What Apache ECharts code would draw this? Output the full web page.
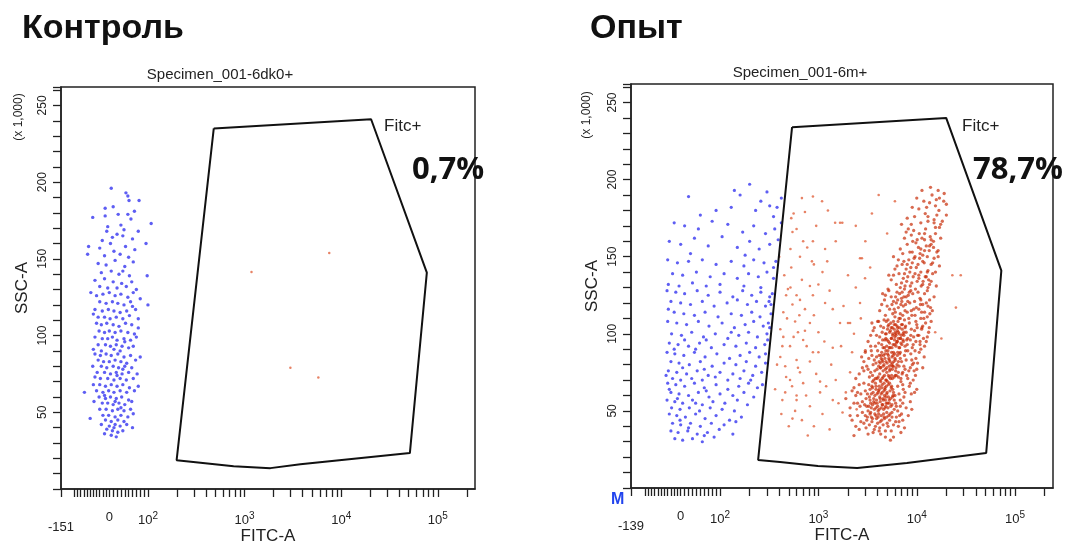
<!DOCTYPE html>
<html>
<head>
<meta charset="utf-8">
<title>FITC-A / SSC-A</title>
<script src="https://cdn.jsdelivr.net/npm/echarts@6/dist/echarts.min.js"></script>
<style>
  html, body { margin: 0; padding: 0; background: #fff; }
  #main { width: 1072px; height: 549px; }
</style>
</head>
<body>
<div id="main"></div>
<script>
// ---- data: [FITC-A, SSC-A (x1000)] ----
// Контроль, FITC- (blue)
var ctrlNeg = [
  [5,196],[43,193],[48,191],[51,188],[77,188],[-13,183],[10,184],[-52,177],[-13,178],[108,173],[23,179],[48,179],[56,176],[30,172],[-5,171],[65,181],
  [-8,168],[20,166],[35,165],[-22,162],[60,163],[75,168],[3,160],[42,158],[-65,158],[12,155],[28,153],[95,160],[-15,152],[50,151],[66,156],[8,164],[38,169],[-30,157],
  [-68,153],[-35,147],[-10,146],[15,149],[40,145],[62,148],[-25,141],[5,142],[25,140],[52,139],[98,139],[-45,136],[-15,137],[10,135],[32,134],[58,135],[-5,131],[20,131],[44,132],[70,130],[-30,132],[35,142],
  [-58,128],[-40,126],[-20,127],[0,128],[15,126],[30,127],[48,125],[62,128],[80,124],[-30,122],[-10,121],[8,122],[22,121],[38,120],[55,122],[100,120],[-45,117],[-22,116],[-3,117],[12,116],[28,115],[45,116],[68,117],[-35,112],[-15,112],[2,111],[18,112],[35,111],[52,113],[75,111],[-50,114],[60,119],
  [-40,108],[-25,107],[-8,108],[10,107],[25,106],[42,108],[58,107],[75,105],[-32,103],[-15,102],[0,103],[15,102],[30,103],[48,102],[65,101],[-45,99],[-22,98],[-5,98],[8,99],[20,97],[38,98],[55,97],[70,99],[-35,94],[-12,94],[3,93],[18,94],[33,93],[50,92],[-50,91],[-25,90],[12,91],[28,90],[62,93],[40,96],
  [-45,88],[-28,87],[-10,88],[5,87],[22,88],[38,86],[55,87],[80,86],[-35,84],[-18,83],[0,83],[15,84],[30,83],[45,82],[68,84],[-52,80],[-25,80],[-8,79],[10,80],[24,79],[40,80],[58,79],[-38,76],[-15,76],[3,75],[18,76],[33,75],[50,76],[72,75],[-28,72],[-5,72],[12,71],[28,72],[44,71],[62,72],[-45,73],[20,74],[35,78],
  [-78,63],[-50,68],[-30,68],[-12,67],[5,68],[20,67],[35,68],[52,66],[75,67],[-40,64],[-20,63],[-2,64],[12,63],[28,64],[45,63],[65,64],[-32,60],[-12,59],[3,60],[18,59],[32,60],[50,58],[-48,57],[-22,56],[-5,56],[10,55],[25,56],[40,55],[58,57],[-30,52],[-10,52],[8,51],[22,52],[38,51],[55,52],[-15,61],[15,57],[30,53],
  [-20,48],[-2,48],[15,47],[30,48],[48,47],[62,49],[-12,45],[5,44],[22,45],[38,44],[-60,46],[-25,42],[0,41],[15,42],[28,41],[45,42],[60,40],[-8,39],[8,38],[22,37],[35,38],[-15,36],[5,35],[18,34],[12,40]
];
// Контроль, Fitc+ (red)
var ctrlPos = [[1180,141.5],[7520,153.8],[2980,79],[5800,72.7]];

// Опыт, FITC- (blue)
var expNeg = [
  [20,189],[50,177],[140,193],[200,197],[160,190],[260,186],[320,183],[380,182],[130,182],[230,180],[300,192],[420,188],[90,180],[350,176],
  [-20,172],[10,170],[45,168],[80,173],[120,171],[170,166],[220,170],[290,165],[360,168],[420,172],[-35,160],[0,158],[35,162],[70,157],[105,163],[150,156],[200,160],[250,155],[320,158],[390,161],[25,152],[180,151],
  [-40,148],[-10,146],[20,147],[55,148],[90,145],[130,147],[175,144],[220,148],[280,146],[350,143],[370,147],[-25,139],[5,138],[40,140],[75,137],[110,139],[150,136],[195,139],[245,137],[300,140],[350,136],[-38,132],[-5,131],[30,133],[65,131],[100,132],[175,131],[260,130],
  [-42,128],[-15,127],[10,126],[42,128],[70,125],[100,127],[135,124],[170,128],[210,125],[260,127],[320,124],[340,126],[-30,121],[0,120],[25,119],[55,121],[85,118],[118,120],[150,122],[190,119],[235,121],[290,118],[315,121],[330,119],[-20,114],[8,113],[35,112],[62,114],[95,111],[130,113],[165,112],[210,114],[255,111],[330,113],[-38,116],
  [-40,108],[-12,107],[15,106],[45,108],[72,105],[105,107],[140,104],[180,106],[220,108],[275,105],[310,107],[320,104],[-28,100],[2,99],[28,101],[58,98],[88,100],[120,97],[155,99],[195,101],[240,98],[300,100],[305,96],[-35,94],[-8,93],[20,92],[48,94],[78,91],[110,93],[145,92],[185,94],[230,91],[285,93],[10,96],[65,96],[130,101],[-20,90],[38,90],
  [-42,88],[-18,87],[8,86],[35,88],[62,85],[92,87],[125,84],[160,86],[200,88],[250,85],[290,87],[-30,82],[-5,81],[22,80],[50,82],[80,79],[110,81],[145,80],[185,82],[230,79],[290,81],[-38,76],[-12,75],[15,74],[42,76],[70,73],[100,75],[135,74],[175,76],[215,73],[265,75],[-25,71],[0,70],[28,71],[55,70],[88,72],[120,70],[160,71],[205,70],[5,78],[60,77],[-45,73],
  [-40,68],[-15,67],[10,66],[35,68],[60,65],[90,67],[120,64],[155,66],[195,68],[240,65],[270,67],[-30,62],[-5,61],[20,60],[45,62],[72,59],[100,61],[135,60],[175,62],[220,59],[-42,57],[-18,56],[5,55],[30,57],[55,54],[82,56],[112,55],[150,57],[190,54],[-28,52],[-2,51],[22,52],[48,50],[75,52],[105,51],[140,50],[-10,58],[38,55],[65,63],[-35,64],
  [-35,48],[-12,47],[12,46],[38,48],[62,45],[90,47],[125,44],[165,46],[-25,42],[0,41],[25,42],[50,40],[78,42],[110,41],[145,43],[-30,37],[-8,36],[18,37],[42,35],[68,36],[98,38],[135,35],[-18,32],[5,31],[30,32],[55,30],[85,33],[-2,44],[20,39],[60,34]
];
// Опыт, Fitc+ scattered (red)
var expPosSparse = [
  [680,188],[880,189],[1090,186],[730,179],[1660,172],[530,175],[545,166],[880,160],[1170,155],[770,156],[650,150],[860,147],[1230,147],[2650,149],[3360,143],[2980,136],
  [530,143],[680,135],[820,131],[1000,132],[490,129],[600,125],[880,125],[1170,120],[545,119],[730,116],[440,114],[580,108],[820,107],[1660,107],[2650,120],[2100,107],
  [620,101],[410,103],[700,96],[1000,101],[515,92],[880,88],[410,85],[600,83],[820,82],[1400,91],[460,79],[650,75],[515,70],[700,68],[1040,69],[363,64],[460,62],
  [600,57],[1040,62],[1400,57],[820,53],[545,45],[430,57],[780,34],[2100,75],[2450,51],[1760,49],
  [400,150],[450,138],[520,155],[600,168],[700,160],[950,170],[1100,140],[1300,128],[480,110],[560,98],[640,112],[760,92],[900,112],[1150,95],[1350,80],[430,92],
  [470,72],[540,66],[620,78],[750,60],[950,74],[1200,66],[1500,70],[380,80],[420,48],[500,40],[580,50],[680,44],[900,40],[1100,48],[1300,38],[1600,55],
  [1900,62],[2200,88],[1800,118],[2000,138],[1500,160],[1250,180],[2400,170],[650,122],[520,130],[560,178],[900,145],[1000,88],[730,102],[600,60],[470,125],[1700,92],
  [2300,100],[440,98],[23000,138],[25000,117],[15400,101],[28000,138],[17800,97],[1750,172],[2770,149],[1400,116],[2000,107],[2700,110],[2400,130],[3000,160],[3500,178],
  [6000,186],[5000,165],[4100,190],[1480,172]
];
// Опыт, Fitc+ main population (red)
var expPosDense = [
  [2200,44],[2600,38],[3000,47],[3300,41],[3600,36],[3900,45],[4200,39],[4600,48],[5000,42],[5500,37],[6200,46],[2800,49],[3200,35],[3500,43],[3800,40],[4100,48],[4400,44],[4800,37],[5200,47],[5800,41],
  [2400,40],[2900,42],[3400,49],[3700,38],[4000,42],[4300,35],[4700,45],[5100,40],[5600,49],[6600,43],[3100,44],[3450,46],[3750,48],[4150,37],[4550,41],[4950,46],[2500,47],[3050,39],[4250,43],[5300,44],
  [5800,33],[6500,40],[7200,44],[6900,36],[2300,34],[2700,43],[5400,31],[7500,39],[6100,43],[4800,33],
  [1900,58],[2100,52],[2300,65],[2500,55],[2700,61],[2900,68],[3100,53],[3300,59],[3500,66],[3700,51],[3900,57],[4100,63],[4300,69],[4500,54],[4700,60],[4900,66],[5100,52],[5400,58],[5700,64],[6100,55],
  [6600,61],[7200,67],[2400,60],[2800,56],[3000,63],[3200,50],[3400,55],[3600,62],[3800,68],[4000,53],[4200,59],[4400,65],[4600,51],[4800,57],[5000,62],[5300,68],[5600,54],[6000,60],[6400,66],[3050,58],
  [3250,67],[3450,52],[3650,58],[3850,64],[4050,50],[4250,56],[4450,62],[4650,68],[4850,53],[5150,59],[5500,65],[5900,51],[2600,67],[2200,63],[3550,69],[3950,61],[4350,52],[4750,64],[5250,55],[2950,54],
  [3350,64],[3750,55],[4150,66],[4550,58],[5050,69],[5800,62],[6800,57],[2650,53],[3150,61],[4900,55],
  [7000,48],[7800,52],[8600,56],[7400,59],[6800,53],[8200,47],[2100,47],[2300,55],[6400,50],[7200,55],[5900,57],[6700,47],[8900,51],[6200,53],[5600,46],
  [7600,62],[8400,66],[9200,70],[10000,64],[7900,73],[8800,61],[6900,69],[7300,64],[8100,71],[9700,73],[6500,72],[2400,71],[2500,62],[7100,74],[8600,68],[9500,62],
  [3150,46],[3350,48],[3550,45],[3850,47],[4050,46],[4350,47],[4650,46],[4950,49],[5350,48],[3250,53],[3550,54],[3850,52],[4150,51],[4450,54],[4750,52],[5050,55],[5450,53],[3350,57],[3650,56],[3950,55],
  [4250,58],[4550,57],[4850,59],[5250,57],[5650,59],[3450,61],[3750,60],[4050,62],[4350,61],[4650,63],[4950,61],[5350,63],[5750,60],[3550,65],[3850,66],[4150,64],[4450,67],[4750,65],[5150,67],[5550,66],
  [3650,70],[3950,71],[4250,70],[4550,72],[4850,70],[5250,72],[5650,71],[6050,73],
  [2600,74],[2900,82],[3200,77],[3500,86],[3800,71],[4100,79],[4400,88],[4700,73],[5000,81],[5300,76],[5600,85],[5900,72],[6300,80],[6700,87],[7200,75],[7800,83],[8600,78],[3000,88],[3300,72],[3600,80],
  [3900,85],[4200,74],[4500,82],[4800,77],[5100,89],[5400,71],[5700,79],[6000,84],[6500,75],[7000,82],[3100,79],[3400,75],[3700,83],[4000,89],[4300,78],[4600,86],[4900,70],[5200,84],[5500,80],[5800,88],
  [6200,73],[6600,79],[7500,86],[3450,89],[3750,76],[4050,72],[4350,84],[4650,80],[4950,75],[5250,79],[5550,73],[5850,82],[6400,88],[9300,81],[2800,78],[3550,73],[3850,81],[4150,86],[4450,71],[4750,84],
  [5050,87],[5350,82],[5650,77],[6100,76],[6900,71],[8100,89],[2750,85],[3250,84],[4250,81],[4550,76],[4850,89],[5150,73],[5750,86],[6800,84],[7400,79],
  [8300,76],[9000,80],[9800,84],[10600,88],[11500,78],[8700,87],[9400,76],[10200,81],[7700,89],[11900,85],[8900,83],[10000,77],[7600,77],[9600,89],[2900,76],[3000,89],
  [3950,77],[4250,78],[4550,79],[4950,78],[5350,77],[5750,79],[6150,78],[4150,82],[4450,83],[4850,82],[5250,83],[5650,81],[6050,83],[6500,82],[4350,86],[4750,87],[5150,86],[5550,88],[5950,87],[6350,86],[6800,88],
  [3200,95],[3600,102],[4000,108],[4400,93],[4800,100],[5200,106],[5600,91],[6000,98],[6400,104],[6800,110],[7300,95],[7800,101],[8400,107],[9200,93],[10200,99],[11500,105],[3800,92],[4200,98],[4600,104],[5000,96],
  [5400,102],[5800,108],[6200,94],[6600,100],[7000,106],[7600,92],[8100,97],[8800,103],[3500,107],[3900,99],[4300,105],[4700,91],[5100,109],[5500,97],[5900,103],[6300,95],[6700,91],[7100,103],[7500,109],[8000,93],
  [4500,96],[4900,108],[5300,94],[5700,100],[6100,106],[6500,97],[6900,94],[7400,99],[9800,108],[3400,99],[4100,94],[4450,101],[4850,97],[5250,91],[5650,104],[6050,101],[6450,108],[6850,97],[7250,100],[8600,96],
  [3700,104],[5450,107],[5950,93],[6350,102],[7700,105],[10800,95],[4650,109],[5050,103],[6150,99],[7900,96],
  [9000,91],[9800,95],[10500,99],[11200,103],[12000,92],[12800,98],[13400,104],[9500,102],[10800,93],[11700,97],[9300,98],[10100,104],[11000,90],[12500,95],[13200,101],[8700,99],[3400,92],
  [4550,91],[4950,92],[5350,91],[5750,93],[6150,92],[6600,91],[7050,93],[4750,96],[5150,95],[5550,97],[5950,96],[6350,95],[6800,97],[7250,96],[4900,100],[5300,101],[5700,99],[6100,100],[6500,101],[6950,99],[7400,101],
  [5100,105],[5500,104],[5900,106],[6300,105],[6700,104],[7150,106],[7600,104],
  [4200,115],[4700,122],[5200,128],[5700,113],[6200,120],[6700,126],[7200,112],[7700,119],[8200,125],[8800,115],[9500,121],[10300,127],[11200,114],[12500,120],[4500,126],[5000,118],[5500,124],[6000,111],[6500,117],[7000,123],
  [7500,129],[8000,114],[8500,120],[9100,126],[9900,117],[4800,112],[5300,116],[5800,121],[6300,127],[6800,113],[7300,118],[7800,124],[8300,110],[9300,116],[10800,123],[5100,129],[5600,119],[6100,124],[6600,110],[7100,127],
  [7600,115],[8100,121],[8700,128],[13800,117],[4400,119],[5900,116],[6400,122],[6900,119],[7400,124],[8900,112],[9700,129],[6050,114],[7050,121],[8400,127],[11800,110],
  [10000,106],[11000,110],[12000,114],[13000,118],[14000,108],[10500,116],[11500,119],[12800,111],[9600,112],[13600,113],[10900,119],[12300,107],[14400,115],[11300,104],[4100,108],
  [5500,135],[6000,142],[6500,148],[7000,133],[7500,139],[8000,145],[8600,131],[9200,137],[9900,143],[10700,149],[11600,134],[12800,140],[14500,146],[5800,138],[6300,144],[6800,130],[7300,136],[7800,142],[8300,148],[8900,133],
  [9600,139],[10300,145],[11100,131],[12200,137],[6600,139],[7100,145],[7600,131],[8100,137],[8700,143],[9400,149],[10100,134],[11000,140],[6200,132],[7900,134],[9000,146],[10500,138],[13500,132],[7400,147],[8500,140],[11900,146],
  [11000,122],[12000,126],[13000,130],[14000,134],[15000,124],[15800,131],[12500,137],[13500,122],[11500,132],[14500,139],[10500,136],[12800,128],[4800,125],[5200,138],[13200,135],
  [6800,155],[7500,162],[8200,168],[9000,153],[9800,159],[10600,165],[11500,151],[12500,157],[13700,163],[15500,169],[7200,152],[8000,158],[8800,164],[9600,150],[10400,156],[11300,162],[12300,168],[13400,154],[14800,160],[8500,153],
  [9300,167],[10100,161],[11000,155],[12000,165],[7800,166],[10800,152],[14000,158],[16500,154],[9100,160],[12800,150],
  [13000,141],[14000,145],[15000,149],[16000,153],[17000,144],[13500,157],[15500,140],[16500,150],[12000,154],[14800,156],[5800,150],[11500,147],
  [8000,175],[9000,182],[10000,188],[11000,172],[12200,178],[13500,185],[15000,174],[16800,180],[18800,186],[9500,176],[10500,181],[11800,186],[13000,173],[14300,190],[17500,171],[20000,177],[12600,182],[8800,171],[15800,187],[11300,193],
  [14000,161],[15500,165],[17000,169],[18200,173],[16000,177],[13000,176],[17500,162],[15000,172],[7000,171],[12000,161],
  [15500,183],[17000,188],[19000,191],[20000,184],[16500,193],[13800,195]
];

// Fitc+ gates (polygon vertices)
var gateCtrl = [[480,235],[20400,241],[77000,141],[51400,23.4],[3780,16.2],[1850,13.6],[770,14.9],[312,17.5],[198,18.8],[480,235]];
var gateExp = [[540,234],[19900,240],[72400,141],[50800,22.7],[7940,16.2],[2480,13],[990,14.3],[408,16.9],[244,18.2],[540,234]];

// axis ticks / labels
var xTickRaw = [-110,-100,-90,-80,-70,-60,-50,-40,-30,-20,-10,0,10,20,30,40,50,60,70,80,90,100,
  200,300,400,500,600,700,800,900,1000,2000,3000,4000,5000,6000,7000,8000,9000,10000,
  20000,30000,40000,50000,60000,70000,80000,90000,100000,200000];
var xLabelRaw = [0, 100, 1000, 10000, 100000];
var xLabelText = ['0', '10{s|2}', '10{s|3}', '10{s|4}', '10{s|5}'];
var ctrlMinLabel = '-151';
var expMinLabel = '-139';
var yLabelVals = [50, 100, 150, 200, 250];

// biexponential-like display scale for FITC-A
function fitc(v) {
  if (v >= 100) return Math.log10(v);
  if (v >= 0) return 1.6 + v * 0.004;
  return 1.6 + v * 0.0033;
}
function pts(arr) {
  return arr.map(function (p) { return [fitc(p[0]), p[1]]; });
}

var myChart = echarts.init(document.getElementById('main'));

var BLUE = 'rgba(25,25,238,0.88)';
var RED = 'rgba(198,38,0,0.85)';
var RED_LIGHT = 'rgba(220,72,30,0.85)';
var FONT = 'Liberation Sans';

function xAxisFor(grid, xMin, minLabel) {
  var labelVals = [xMin].concat(xLabelRaw.map(fitc));
  return {
    type: 'value', gridIndex: grid, min: xMin, max: 5.385,
    name: 'FITC-A', nameLocation: 'middle', nameGap: 39, nameMoveOverlap: false,
    nameTextStyle: { fontFamily: FONT, fontSize: 17, color: '#222' },
    axisLine: { show: true, lineStyle: { color: '#222', width: 1.5 } },
    axisTick: { show: true, length: 8, lineStyle: { color: '#222', width: 1.3 },
      customValues: [xMin].concat(xTickRaw.map(fitc)) },
    splitLine: { show: false },
    axisLabel: {
      customValues: labelVals, margin: 22, color: '#222', fontFamily: FONT, fontSize: 13,
      formatter: function (v) {
        if (Math.abs(v - xMin) < 1e-6) return '{n|' + minLabel + '}';
        for (var i = 0; i < xLabelRaw.length; i++) {
          if (Math.abs(fitc(xLabelRaw[i]) - v) < 1e-6) return xLabelText[i];
        }
        return '';
      },
      rich: {
        s: { fontSize: 10, fontFamily: FONT, color: '#222', padding: [0, 0, 9, 0] },
        n: { fontSize: 13, fontFamily: FONT, color: '#222', padding: [10, 0, 0, 0] }
      }
    }
  };
}

function yAxisFor(grid) {
  return {
    type: 'value', gridIndex: grid, min: 0, max: 262, interval: 10,
    name: 'SSC-A', nameLocation: 'middle', nameGap: 30, nameRotate: 90, nameMoveOverlap: false,
    nameTextStyle: { fontFamily: FONT, fontSize: 17, color: '#222' },
    axisLine: { show: true, lineStyle: { color: '#222', width: 1.5 } },
    axisTick: { show: true, length: 8, lineStyle: { color: '#222', width: 1.3 } },
    splitLine: { show: false },
    axisLabel: { customValues: yLabelVals, rotate: 90, margin: 12, color: '#222', fontFamily: FONT, fontSize: 12 }
  };
}

function dots(xi, data, color, size) {
  return { type: 'scatter', xAxisIndex: xi, yAxisIndex: xi, data: pts(data),
    symbol: 'circle', symbolSize: size, itemStyle: { color: color }, silent: true, z: 2 };
}
function gateLine(xi, data) {
  return { type: 'line', xAxisIndex: xi, yAxisIndex: xi, data: pts(data), symbol: 'none',
    lineStyle: { color: '#111', width: 2 }, silent: true, z: 5 };
}

function txt(x, y, s, style) {
  return { type: 'text', x: x, y: y, style: Object.assign({ text: s, fill: '#111', fontFamily: FONT }, style) };
}

var option = {
  animation: false,
  backgroundColor: '#fff',
  grid: [
    { left: 61, top: 87, width: 414, height: 402, outerBoundsMode: 'none', show: true, borderColor: '#222', borderWidth: 1.5 },
    { left: 631, top: 84, width: 422, height: 404, outerBoundsMode: 'none', show: true, borderColor: '#222', borderWidth: 1.5 }
  ],
  xAxis: [xAxisFor(0, 1.10, ctrlMinLabel), xAxisFor(1, 1.095, expMinLabel)],
  yAxis: [yAxisFor(0), yAxisFor(1)],
  series: [
    dots(0, ctrlNeg, BLUE, 3.4),
    dots(0, ctrlPos, RED_LIGHT, 2.5),
    gateLine(0, gateCtrl),
    dots(1, expNeg, BLUE, 3.2),
    dots(1, expPosSparse, RED_LIGHT, 2.6),
    dots(1, expPosDense, RED, 3.3),
    gateLine(1, gateExp)
  ],
  graphic: [
    txt(22, 12, 'Контроль', { fontSize: 34, fontWeight: 'bold' }),
    txt(590, 12, 'Опыт', { fontSize: 34, fontWeight: 'bold' }),
    txt(220, 75, 'Specimen_001-6dk0+', { fontSize: 15, textAlign: 'center', textVerticalAlign: 'middle', fill: '#222' }),
    txt(800, 73, 'Specimen_001-6m+', { fontSize: 15, textAlign: 'center', textVerticalAlign: 'middle', fill: '#222' }),
    { type: 'text', x: 19, y: 117, rotation: Math.PI / 2,
      style: { text: '(x 1,000)', fontSize: 12, fontFamily: FONT, fill: '#222', textAlign: 'center', textVerticalAlign: 'middle' } },
    { type: 'text', x: 587, y: 115, rotation: Math.PI / 2,
      style: { text: '(x 1,000)', fontSize: 12, fontFamily: FONT, fill: '#222', textAlign: 'center', textVerticalAlign: 'middle' } },
    txt(384, 126, 'Fitc+', { fontSize: 17, textVerticalAlign: 'middle', fill: '#222' }),
    txt(962, 126, 'Fitc+', { fontSize: 17, textVerticalAlign: 'middle', fill: '#222' }),
    txt(412, 170, '0,7%', { fontSize: 31, fontWeight: 'bold', fontFamily: 'Open Sans', textVerticalAlign: 'middle' }),
    txt(973, 170, '78,7%', { fontSize: 31, fontWeight: 'bold', fontFamily: 'Open Sans', textVerticalAlign: 'middle' }),
    txt(611, 500, 'M', { fontSize: 16, fontWeight: 'bold', fill: '#2244ee', textVerticalAlign: 'middle' })
  ]
};

myChart.setOption(option);
</script>
</body>
</html>
